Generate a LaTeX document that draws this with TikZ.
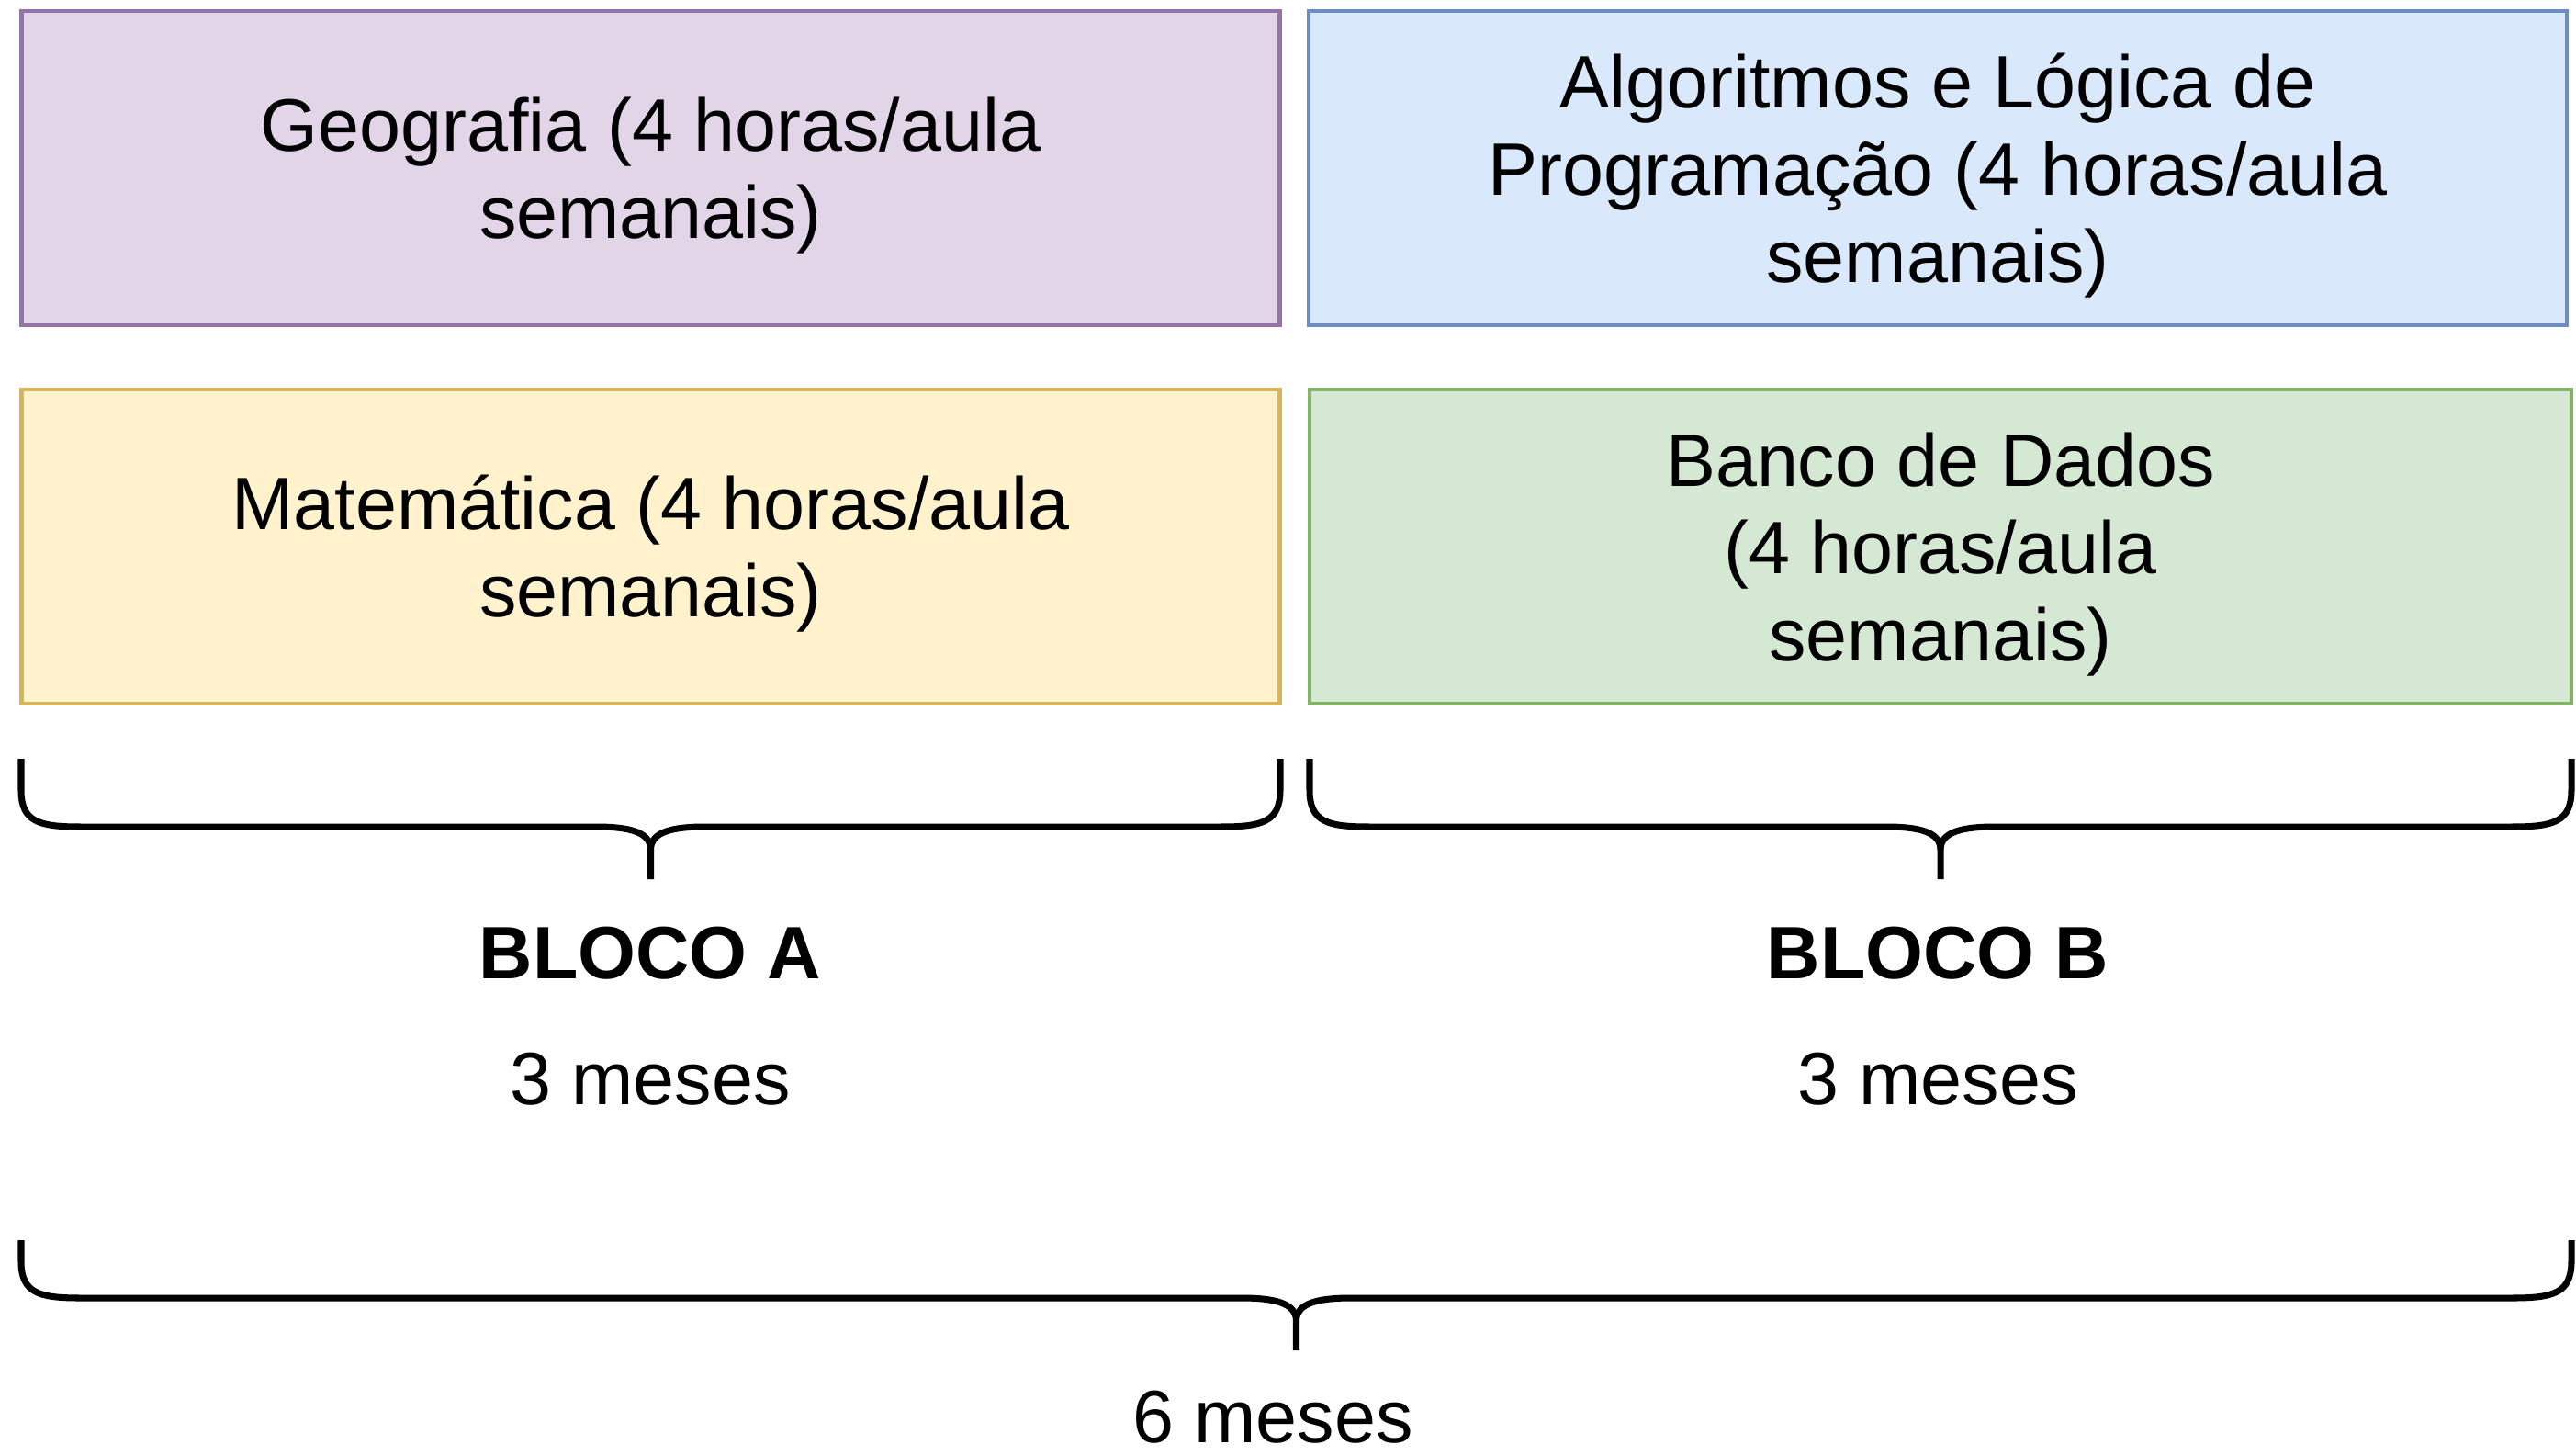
\documentclass[tikz,border=0pt]{standalone}
\usepackage{fontspec}
\setmainfont{Liberation Sans}
\definecolor{lilasfill}{HTML}{E1D5E7}
\definecolor{lilasline}{HTML}{9673A6}
\definecolor{azulfill}{HTML}{DAE8FC}
\definecolor{azulline}{HTML}{6C8EBF}
\definecolor{amarfill}{HTML}{FFF2CC}
\definecolor{amarline}{HTML}{D6B656}
\definecolor{verdefill}{HTML}{D5E8D4}
\definecolor{verdeline}{HTML}{82B366}
\newcommand{\sobe}{\rule{0pt}{21.5pt}}
\tikzset{
  disciplina/.style={draw, line width=1.4pt, minimum width=13.7cm, minimum height=3.42cm,
    align=center, inner sep=0pt, font=\fontsize{23}{27}\selectfont},
  rotulo/.style={font=\fontsize{23}{27}\selectfont},
  chave/.style={line width=2pt}
}
\begin{document}
\begin{tikzpicture}
  \useasboundingbox (0,0) rectangle (28.05,-15.84);
  % disciplinas
  \node[disciplina, fill=lilasfill, draw=lilasline] (geo) at (7.085,-1.83) {\sobe Geografia (4 horas/aula\\semanais)};
  \node[disciplina, fill=azulfill, draw=azulline] (alg) at (21.1,-1.83) {\sobe Algoritmos e Lógica de\\Programação (4 horas/aula\\semanais)};
  \node[disciplina, fill=amarfill, draw=amarline] (mat) at (7.085,-5.95) {\sobe Matemática (4 horas/aula\\semanais)};
  \node[disciplina, fill=verdefill, draw=verdeline, minimum width=13.74cm] (bd) at (21.13,-5.95) {\sobe Banco de Dados\\(4 horas/aula\\semanais)};
  % chaves
  \foreach \xa/\xb/\ya/\yb/\yc in {0.23/13.94/-8.26/-9.0/-9.57, 14.26/28.0/-8.26/-9.0/-9.57, 0.23/28.0/-13.5/-14.13/-14.7} {
    \pgfmathsetmacro{\xm}{(\xa+\xb)/2}
    \draw[chave] (\xa,\ya) -- (\xa,\yb+0.4) .. controls (\xa,\yb+0.05) and (\xa+0.2,\yb) .. (\xa+0.65,\yb)
      -- (\xm-0.6,\yb) .. controls (\xm-0.25,\yb) and (\xm,\yb-0.05) .. (\xm,\yb-0.25) -- (\xm,\yc);
    \draw[chave] (\xb,\ya) -- (\xb,\yb+0.4) .. controls (\xb,\yb+0.05) and (\xb-0.2,\yb) .. (\xb-0.65,\yb)
      -- (\xm+0.6,\yb) .. controls (\xm+0.25,\yb) and (\xm,\yb-0.05) .. (\xm,\yb-0.25);
  }
  % blocos
  \node[rotulo, font=\fontsize{23}{27}\selectfont\bfseries] (blocoA) at (7.08,-10.38) {BLOCO A};
  \node[rotulo] (mesesA) at (7.08,-11.75) {3 meses};
  \node[rotulo, font=\fontsize{23}{27}\selectfont\bfseries] (blocoB) at (21.1,-10.38) {BLOCO B};
  \node[rotulo] (mesesB) at (21.1,-11.75) {3 meses};
  \node[rotulo] (total) at (13.86,-15.43) {6 meses};
\end{tikzpicture}
\end{document}
